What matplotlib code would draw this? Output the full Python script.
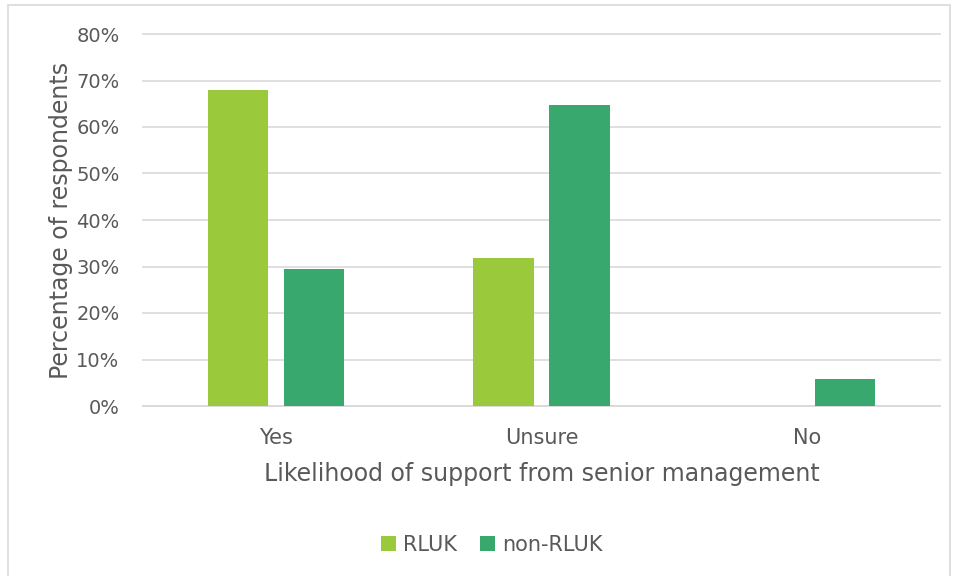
import numpy as np
import matplotlib.pyplot as plt
from matplotlib.patches import Rectangle

categories = ['Yes', 'Unsure', 'No']
rluk = [68.0, 31.8, 0.0]
non_rluk = [29.4, 64.7, 5.9]
series_names = ['RLUK', 'non-RLUK']

plt.rcParams['font.family'] = ['DejaVu Sans']
txt = '#595959'

fig = plt.figure(figsize=(9.56, 5.76), dpi=100)
ax = fig.add_axes([143/956, 1-406/576, (940-143)/956, (406-34)/576])

x = np.arange(len(categories))
w = 0.226
gap = 0.06
ax.bar(x - (w+gap)/2, rluk, w, color='#9ACA3C', label=series_names[0], zorder=3)
ax.bar(x + (w+gap)/2, non_rluk, w, color='#38A86F', label=series_names[1], zorder=3)

ax.set_xlim(-0.5, 2.5)
ax.set_ylim(0, 80)
ax.set_yticks(np.arange(0, 81, 10))
ax.set_yticklabels([f'{v}%' for v in range(0, 81, 10)])
ax.set_xticks(x)
ax.set_xticklabels(categories)
ax.tick_params(axis='y', length=0, labelsize=14, colors=txt, pad=17)
ax.tick_params(axis='x', length=0, labelsize=15, colors=txt, pad=16)
ax.grid(axis='y', color='#D9D9D9', lw=1.2, zorder=0)
for gl in ax.get_ygridlines():
    gl.set_clip_on(False)
for s in ['top', 'right', 'left']:
    ax.spines[s].set_visible(False)
ax.spines['bottom'].set_color('#D9D9D9')
ax.spines['bottom'].set_linewidth(1.2)

ax.set_ylabel('Percentage of respondents', fontsize=17, color=txt, labelpad=2)
ax.set_xlabel('Likelihood of support from senior management', fontsize=17, color=txt, labelpad=10)

fig.legend(loc='center', bbox_to_anchor=(492/956, 1-545/576), ncol=2, frameon=False,
           fontsize=15, labelcolor=txt, handlelength=0.7, handleheight=0.7,
           handletextpad=0.35, columnspacing=1.1)

fig.patches.append(Rectangle((8/956, -0.01), (950-8)/956, 1-5/576+0.01, transform=fig.transFigure,
                             fill=False, edgecolor='#D9D9D9', lw=1.2))

fig.savefig('out.png', dpi=100)
